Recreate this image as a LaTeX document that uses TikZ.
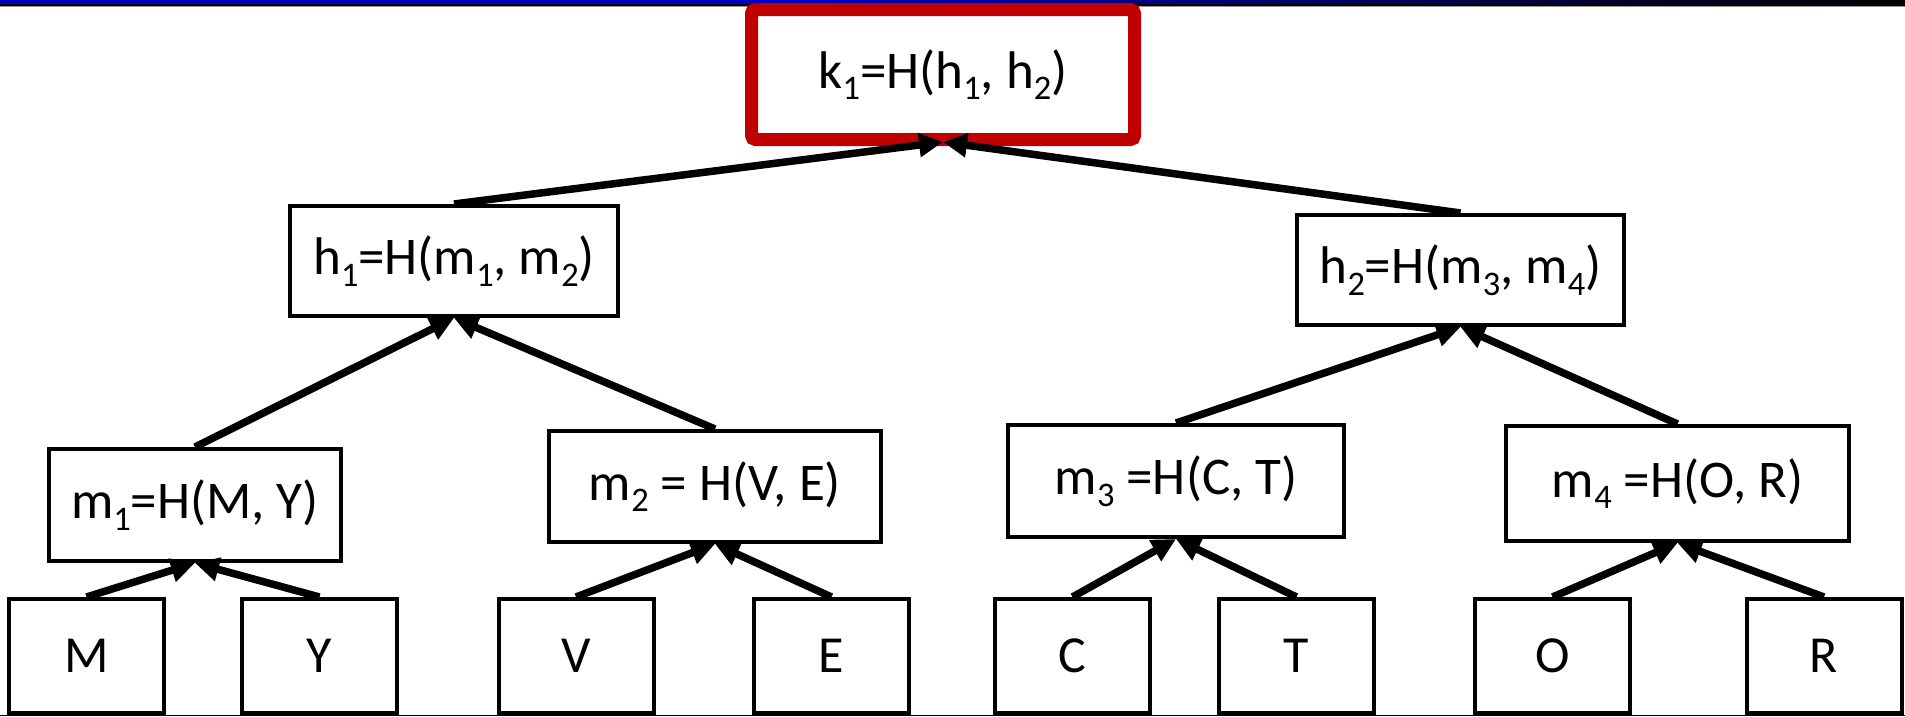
\documentclass[tikz,border=0pt]{standalone}
\usepackage{fontspec}
\setmainfont{Carlito}
\usepackage{graphicx}
\usetikzlibrary{arrows.meta}

\definecolor{barblue}{RGB}{0,0,192}
\definecolor{keyred}{RGB}{192,0,0}
\definecolor{rulegray}{RGB}{150,150,150}

% lowered, smaller upright index digit
\newcommand\lowsub[1]{\raisebox{-0.22em}{\scalebox{0.65}{#1}}}

\tikzset{
  hashbox/.style={draw=black, line width=4pt, fill=white, inner sep=0pt},
  keybox/.style={draw=keyred, line width=13pt, fill=white, inner sep=0pt,
                 rounded corners=4pt, outer sep=2.5pt},
  bigtext/.style={font=\fontsize{53}{60}\selectfont},
  leaftext/.style={font=\fontsize{52}{58}\selectfont},
  link/.style={line width=7.5pt, -{Triangle[length=24pt,width=23pt]}},
}

\begin{document}
\begin{tikzpicture}[x=1pt, y=-1pt]
  \useasboundingbox (0,0) rectangle (1905,716);
  \fill[white] (0,0) rectangle (1905,716);

  % header band
  \fill[barblue] (0,0) rectangle (800,4.5);
  \shade[left color=barblue, right color=black] (800,0) rectangle (1905,4.5);
  \draw[line width=1.5pt, black] (0,5) -- (1905,5);
  \draw[line width=1pt, rulegray] (0,6.3) -- (1905,6.3);

  % root
  \node[keybox, bigtext, minimum width=383pt, minimum height=130pt] (k1) at (943,74.5)
    {k\lowsub{1}=H(h\lowsub{1}, h\lowsub{2})};

  % second level
  \node[hashbox, bigtext, minimum width=328pt, minimum height=110pt] (h1) at (454,261)
    {h\lowsub{1}=H(m\lowsub{1}, m\lowsub{2})};
  \node[hashbox, bigtext, minimum width=327pt, minimum height=110pt] (h2) at (1460.5,270)
    {h\lowsub{2}=H(m\lowsub{3}, m\lowsub{4})};

  % third level
  \node[hashbox, bigtext, minimum width=292pt, minimum height=112pt] (m1) at (195,505)
    {m\lowsub{1}=H(M, Y)};
  \node[hashbox, bigtext, minimum width=332pt, minimum height=111pt] (m2) at (715,486.5)
    {m\lowsub{2} = H(V, E)};
  \node[hashbox, bigtext, minimum width=336pt, minimum height=112pt] (m3) at (1176,481)
    {m\lowsub{3} =H(C, T)};
  \node[hashbox, bigtext, minimum width=343pt, minimum height=115pt] (m4) at (1677.5,483.5)
    {m\lowsub{4} =H(O, R)};

  % leaves
  \foreach \name/\cx/\txt in {lM/86.5/M, lY/319.5/Y, lV/576/V, lE/831.5/E,
                              lC/1072.5/C, lT/1296.5/T, lO/1552.5/O, lR/1824/R}
    \node[hashbox, leaftext, minimum width=155pt, minimum height=114pt] (\name) at (\cx,656) {\txt};

  % bottom rule
  \draw[line width=1.5pt, black] (0,715.3) -- (1905,715.3);

  % connectors
  \draw[link] (h1.north) -- (k1.south);
  \draw[link] (h2.north) -- (k1.south);
  \draw[link] (m1.north) -- (h1.south);
  \draw[link] (m2.north) -- (h1.south);
  \draw[link] (m3.north) -- (h2.south);
  \draw[link] (m4.north) -- (h2.south);
  \draw[link] (lM.north) -- (m1.south);
  \draw[link] (lY.north) -- (m1.south);
  \draw[link] (lV.north) -- (m2.south);
  \draw[link] (lE.north) -- (m2.south);
  \draw[link] (lC.north) -- (m3.south);
  \draw[link] (lT.north) -- (m3.south);
  \draw[link] (lO.north) -- (m4.south);
  \draw[link] (lR.north) -- (m4.south);
\end{tikzpicture}
\end{document}
